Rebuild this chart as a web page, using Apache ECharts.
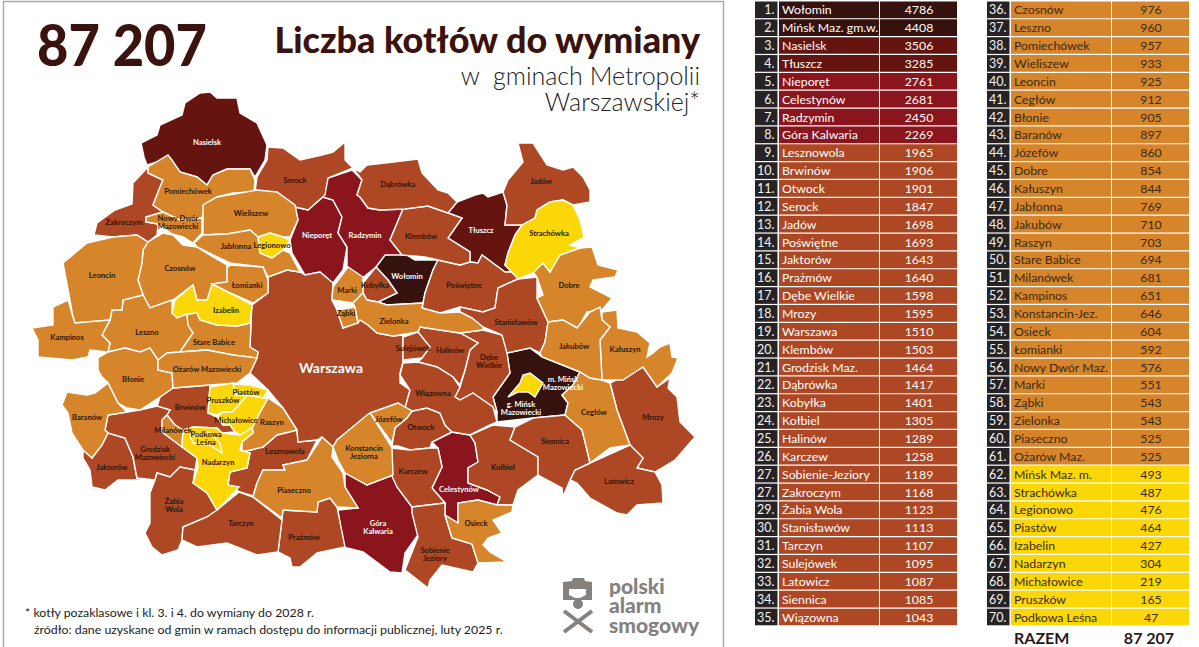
<!DOCTYPE html>
<html lang="pl"><head><meta charset="utf-8">
<style>html,body{margin:0;padding:0;background:#fff}#c{width:1199px;height:647px}</style>
<script src="https://cdn.jsdelivr.net/npm/echarts@6/dist/echarts.min.js"></script>
</head><body><div id="c"></div>
<script>
const ranks=[1,2,3,4,5,6,7,8,9,10,11,12,13,14,15,16,17,18,19,20,21,22,23,24,25,26,27,27,29,30,31,32,33,34,35,36,37,38,39,40,41,42,43,44,45,46,47,48,49,50,51,52,53,54,55,56,57,58,59,60,61,62,63,64,65,66,67,68,69,70];
const names=["Wołomin","Mińsk Maz. gm.w.","Nasielsk","Tłuszcz","Nieporęt","Celestynów","Radzymin","Góra Kalwaria","Lesznowola","Brwinów","Otwock","Serock","Jadów","Poświętne","Jaktorów","Prażmów","Dębe Wielkie","Mrozy","Warszawa","Klembów","Grodzisk Maz.","Dąbrówka","Kobyłka","Kołbiel","Halinów","Karczew","Sobienie-Jeziory","Zakroczym","Żabia Wola","Stanisławów","Tarczyn","Sulejówek","Latowicz","Siennica","Wiązowna","Czosnów","Leszno","Pomiechówek","Wieliszew","Leoncin","Cegłów","Błonie","Baranów","Józefów","Dobre","Kałuszyn","Jabłonna","Jakubów","Raszyn","Stare Babice","Milanówek","Kampinos","Konstancin-Jez.","Osieck","Łomianki","Nowy Dwór Maz.","Marki","Ząbki","Zielonka","Piaseczno","Ożarów Maz.","Mińsk Maz. m.","Strachówka","Legionowo","Piastów","Izabelin","Nadarzyn","Michałowice","Pruszków","Podkowa Leśna"];
const values=[4786,4408,3506,3285,2761,2681,2450,2269,1965,1906,1901,1847,1698,1693,1643,1640,1598,1595,1510,1503,1464,1417,1401,1305,1289,1258,1189,1168,1123,1113,1107,1095,1087,1085,1043,976,960,957,933,925,912,905,897,860,854,844,769,710,703,694,681,651,646,604,592,576,551,543,543,525,525,493,487,476,464,427,304,219,165,47];
const classLimits=[4000,3000,2000,1000,500,0];
const classColors=["#36120e","#66140f","#8b151c","#ae4723","#d6852a","#fbd708"];
const totalLabel="RAZEM", totalValue="87 207";
const titleNumber="87 207";
const titleMain="Liczba kotłów do wymiany";
const titleSub=["w  gminach Metropolii","Warszawskiej*"];
const notes=["* kotły pozaklasowe i kl. 3. i 4. do wymiany do 2028 r.","źródło: dane uzyskane od gmin w ramach dostępu do informacji publicznej, luty 2025 r."];
const logoWords=["polski","alarm","smogowy"];

// gmina outlines (geometry of the map, registered as GeoJSON) and label anchors
const outlines={
"Mińsk Maz. gm.w.":[507,353,530,348,542,357,560,364,580,372,573,385,562,395,568,403,565,415,533,418,497,422,497,412,493,397,510,373],
"Wołomin":[376,267,385,255,402,252,415,260,438,260,433,270,425,293,423,303,387,305,378,302,397,293,388,280],
"Nasielsk":[141,143,157,135,160,125,182,115,185,103,200,93,210,92,217,98,237,98,240,113,257,123,267,145,265,160,255,177,250,169,227,169,213,175,207,185,197,177,180,172,170,158,147,165,144,157],
"Tłuszcz":[448,213,457,202,475,195,483,193,488,197,503,192,507,205,505,225,522,225,515,235,508,253,505,265,513,272,505,272,482,255,478,263,470,262,470,252,448,238,462,218],
"Nieporęt":[295,207,308,210,323,197,333,200,342,217,338,233,347,247,343,270,333,283,320,272,305,275,292,253,290,240,298,220],
"Celestynów":[432,442,452,432,470,435,475,443,478,462,468,468,468,483,487,490,500,497,497,505,478,500,458,503,458,523,445,515,445,503,432,488,442,467,438,448],
"Radzymin":[323,197,328,178,352,170,362,180,357,195,360,197,368,208,380,210,403,209,395,228,390,240,402,255,385,255,376,267,360,280,352,285,347,270,347,247,338,233,342,217,333,200],
"Góra Kalwaria":[345,473,367,485,393,475,397,487,412,507,420,532,405,553,402,573,390,572,363,552,343,547,338,510,358,508,345,487],
"Lesznowola":[242,452,263,447,277,435,297,430,298,442,317,440,307,460,283,465,285,470,263,470,257,483,253,496,240,492,228,485,230,472,247,468,250,453],
"Brwinów":[160,397,173,388,210,385,208,413,217,417,223,425,230,425,235,432,222,433,217,428,193,427,183,430,175,425,167,415,170,410,157,407],
"Otwock":[392,446,395,428,407,418,412,411,427,408,440,413,445,425,452,432,432,442,430,448,410,450,398,446],
"Serock":[255,192,257,177,267,160,268,147,283,148,290,153,300,160,322,155,333,152,345,142,345,160,353,168,328,178,325,195,308,210,295,207,277,192],
"Jadów":[503,192,508,180,523,162,518,143,533,143,547,165,563,170,573,167,583,177,590,190,590,202,573,205,563,200,550,202,537,210,535,218,522,225,505,225,507,205],
"Poświętne":[438,260,460,265,470,262,478,263,482,255,505,272,513,272,518,279,498,288,495,308,483,312,460,307,440,313,422,308,425,293,433,270],
"Jaktorów":[83,450,92,458,102,445,108,433,125,438,133,457,137,478,155,480,118,480,105,490,92,487,90,470,83,458],
"Prażmów":[283,510,317,512,318,502,330,498,337,507,345,547,317,553,300,567,292,567,290,558,278,552,282,518],
"Dębe Wielkie":[460,333,483,330,502,335,508,350,507,353,510,373,493,397,497,412,473,393,460,400,455,397,460,387,465,370,470,350,478,343],
"Mrozy":[610,383,643,367,657,387,670,378,668,388,677,397,680,422,695,437,675,460,655,472,637,468,643,458,630,445,617,410],
"Warszawa":[252,305,268,293,268,277,287,270,300,272,305,275,320,272,333,283,332,300,337,310,343,328,360,320,368,325,377,333,393,336,403,335,403,362,400,373,400,383,410,390,405,408,398,403,370,413,337,440,333,447,322,437,317,440,298,442,297,430,283,408,268,390,250,373,257,358,258,352,250,347,251,323],
"Klembów":[410,208,428,206,448,213,462,218,448,238,470,252,470,262,460,265,438,260,425,257,402,255,390,240,395,228,403,209],
"Grodzisk Maz.":[105,430,108,415,127,412,140,410,157,406,170,410,167,415,162,420,162,432,182,447,197,458,195,470,180,467,170,477,157,473,155,480,137,478,133,457,125,438,108,433],
"Dąbrówka":[353,168,360,172,367,165,385,163,418,159,422,173,438,190,448,193,457,202,448,213,428,206,405,209,380,210,368,208,360,197,357,195,362,180],
"Kobyłka":[363,283,376,267,388,280,397,293,378,302,367,300,363,293],
"Kołbiel":[470,435,493,425,515,427,510,440,538,457,538,475,518,490,513,505,497,505,500,497,487,490,468,483,468,468,478,462,475,443],
"Halinów":[420,327,460,333,478,343,470,350,465,370,460,385,453,377,437,367,418,362,422,358,430,347,418,332],
"Karczew":[392,448,410,450,430,448,438,448,442,467,432,488,445,503,412,507,397,487,388,468],
"Sobienie-Jeziory":[412,507,445,503,445,515,452,538,472,544,478,563,473,572,442,565,430,580,428,588,405,570,418,537,412,513],
"Zakroczym":[94,235,97,223,115,210,132,204,133,183,148,167,148,173,163,180,160,187,153,205,163,212,146,217,146,222,158,224,157,235,148,242,137,235,113,237],
"Żabia Wola":[150,493,155,480,157,473,170,477,180,467,195,470,193,483,207,493,217,510,207,517,183,527,182,540,178,550,162,555,152,547,145,533,150,523],
"Stanisławów":[498,288,518,279,537,277,537,298,548,322,545,342,540,353,530,348,507,353,502,335,483,327,472,318,460,312,460,307,483,312,495,308],
"Tarczyn":[183,527,207,517,217,510,239,492,253,497,282,520,278,552,257,555,227,543,197,547,182,540],
"Sulejówek":[403,337,418,332,430,347,422,358,403,360],
"Latowicz":[570,480,575,470,590,463,630,445,643,458,637,468,655,472,662,485,663,503,637,505,627,515,617,513,590,498,577,483],
"Siennica":[515,427,533,418,565,415,582,430,587,450,590,463,575,470,570,480,563,497,562,488,538,475,538,457,510,440],
"Wiązowna":[403,363,418,362,437,367,453,377,460,387,455,397,460,400,473,393,493,407,497,422,490,425,470,435,452,432,445,425,440,413,427,408,412,411,405,408,410,390,400,375],
"Czosnów":[148,242,163,233,173,235,183,245,197,247,213,257,227,265,227,277,230,282,213,284,207,300,197,300,193,285,173,300,150,308,143,295,138,280,142,263,143,250],
"Leszno":[110,320,112,310,122,310,123,300,143,295,150,308,172,300,172,313,187,314,188,325,193,333,180,352,167,353,158,360,150,348,140,352,125,348,108,352,110,343,102,335],
"Pomiechówek":[148,167,168,155,172,160,180,172,197,177,207,185,213,175,227,169,250,169,255,180,254,192,233,193,217,197,205,204,202,218,180,220,163,212,153,205,160,187,163,180,148,173],
"Wieliszew":[203,205,217,197,240,193,257,190,277,192,295,205,298,220,290,237,283,237,270,233,258,237,250,230,227,234,203,235],
"Leoncin":[63,263,87,243,113,237,137,235,148,242,143,250,142,263,138,280,143,295,123,300,122,310,112,310,110,320,75,323,73,317,70,300],
"Cegłów":[562,395,573,385,580,372,590,378,602,380,610,383,617,410,630,445,610,448,590,463,587,450,582,430,565,415,568,403],
"Błonie":[98,358,108,352,125,348,140,352,150,348,158,360,158,370,172,373,173,388,160,397,140,410,127,408,118,403,108,383,102,377,98,370],
"Baranów":[62,405,67,392,87,395,95,393,108,383,118,403,127,412,108,415,105,430,108,433,102,445,92,458,83,450,72,433,68,413],
"Józefów":[370,413,398,403,412,411,407,418,395,428,392,443],
"Dobre":[533,272,543,263,550,272,560,255,580,248,592,247,598,265,618,270,615,277,593,280,590,287,612,298,602,310,587,312,578,328,563,320,548,322,537,298,543,295,537,277],
"Kałuszyn":[602,312,617,310,618,328,637,332,650,343,647,357,653,353,660,347,670,343,672,357,678,358,672,373,657,387,643,367,623,380,602,380,600,340,610,327,602,320],
"Jabłonna":[194,243,203,235,227,234,250,230,258,237,260,253,272,258,283,250,290,253,300,272,287,270,268,277,263,267,230,263,213,255,197,247],
"Jakubów":[548,322,563,320,577,328,590,312,600,307,602,320,610,327,600,340,602,380,590,378,580,372,560,364,542,357,540,353,545,342],
"Raszyn":[268,398,283,408,297,430,277,435,263,447,242,452,242,442,253,433,252,427,257,418],
"Stare Babice":[187,314,197,313,200,320,217,325,237,326,251,323,250,347,258,352,257,358,233,355,207,350,180,352,193,333,188,325],
"Milanówek":[167,415,175,425,183,430,182,447,162,432,162,420],
"Kampinos":[32,328,53,325,53,307,68,300,73,317,75,323,110,320,102,335,110,343,108,352,90,350,88,357,72,360,38,357,38,340],
"Konstancin-Jez.":[333,447,337,440,367,415,370,413,392,448,393,475,367,485,345,473,338,460],
"Osieck":[458,523,458,503,478,500,497,505,513,505,512,512,493,520,502,533,488,538,483,545,490,552,507,562,478,563,472,544,452,538,445,515],
"Łomianki":[230,265,263,267,268,280,268,293,253,303,230,293,212,284,227,282,227,268],
"Nowy Dwór Maz.":[146,217,163,212,180,220,202,218,202,233,193,243,183,237,172,234,158,224,146,222],
"Marki":[333,287,348,267,363,277,363,293,353,303,332,300],
"Ząbki":[337,310,355,307,358,323,343,328],
"Zielonka":[353,303,363,293,367,300,378,302,387,305,423,303,422,308,440,313,460,312,472,318,483,327,483,330,460,333,420,327,418,332,393,336,377,333,368,325,360,320,358,323,355,307],
"Piaseczno":[263,470,285,470,283,465,307,460,322,437,333,447,332,457,343,473,345,487,358,508,337,507,330,498,318,502,317,512,283,510,282,518,253,497,257,483],
"Ożarów Maz.":[167,353,180,352,207,350,233,355,257,358,250,373,237,383,210,385,173,388,172,373,158,370,158,360],
"Mińsk Maz. m.":[508,397,520,383,523,375,530,373,543,383,535,397,528,392,518,392],
"Strachówka":[522,225,535,218,537,210,550,202,563,200,573,205,580,220,584,237,570,245,580,248,560,255,550,272,543,263,533,273,518,279,505,265,508,253,515,235],
"Legionowo":[258,237,270,233,283,237,290,240,283,250,272,258,260,253],
"Piastów":[233,384,250,385,268,390,263,398,247,395,235,395],
"Izabelin":[172,313,175,300,193,285,197,300,207,300,212,284,230,293,252,305,250,323,237,326,217,325,200,320,197,313,187,314,177,318],
"Nadarzyn":[182,447,183,430,193,427,217,428,222,433,240,435,252,427,253,433,242,442,240,450,250,453,247,468,230,472,228,485,239,487,217,510,207,493,193,483,198,467,197,458],
"Michałowice":[247,395,263,398,268,398,257,418,253,427,240,435,235,432,230,425,223,425,217,417,223,412,232,412,237,407],
"Pruszków":[210,387,233,383,235,395,247,395,237,407,232,412,223,412,217,415,208,413],
"Podkowa Leśna":[190,435,210,433,220,443,222,453,210,445,193,443]
};
const anchors={"Wołomin":[407,276],"Mińsk Maz. gm.w.":[521,408],"Nasielsk":[207,142],"Tłuszcz":[481,230],"Nieporęt":[317,235],"Celestynów":[459,489],"Radzymin":[365,235],"Góra Kalwaria":[378,527],"Lesznowola":[285,451],"Brwinów":[190,407],"Otwock":[421,427],"Serock":[295,180],"Jadów":[541,181],"Poświętne":[464,285],"Jaktorów":[112,467],"Prażmów":[304,537],"Dębe Wielkie":[489,361],"Mrozy":[653,417],"Warszawa":[331,367],"Klembów":[421,236],"Grodzisk Maz.":[155,453],"Dąbrówka":[398,184],"Kobyłka":[375,285],"Kołbiel":[503,467],"Halinów":[450,350],"Karczew":[413,471],"Sobienie-Jeziory":[435,554],"Zakroczym":[124,222],"Żabia Wola":[174,505],"Stanisławów":[516,322],"Tarczyn":[241,523],"Sulejówek":[413,348],"Latowicz":[619,481],"Siennica":[555,441],"Wiązowna":[433,393],"Czosnów":[180,268],"Leszno":[147,332],"Pomiechówek":[188,191],"Wieliszew":[251,213],"Leoncin":[102,275],"Cegłów":[594,412],"Błonie":[133,379],"Baranów":[87,417],"Józefów":[389,419],"Dobre":[569,285],"Kałuszyn":[625,349],"Jabłonna":[236,246],"Jakubów":[574,346],"Raszyn":[272,422],"Stare Babice":[214,342],"Milanówek":[173,430],"Kampinos":[67,337],"Konstancin-Jez.":[364,452],"Osieck":[476,523],"Łomianki":[247,285],"Nowy Dwór Maz.":[178,222],"Marki":[347,290],"Ząbki":[346,313],"Zielonka":[394,321],"Piaseczno":[294,490],"Ożarów Maz.":[207,369],"Mińsk Maz. m.":[563,383],"Strachówka":[549,233],"Legionowo":[272,245],"Piastów":[246,392],"Izabelin":[226,310],"Nadarzyn":[218,462],"Michałowice":[236,420],"Pruszków":[223,400],"Podkowa Leśna":[206,438]};
const mapLabels={"Mińsk Maz. gm.w.":"g. Mińsk\nMazowiecki","Mińsk Maz. m.":"m. Mińsk\nMazowiecki","Góra Kalwaria":"Góra\nKalwaria","Dębe Wielkie":"Dębe\nWielkie","Grodzisk Maz.":"Grodzisk\nMazowiecki","Sobienie-Jeziory":"Sobienie\nJeziory","Żabia Wola":"Żabia\nWola","Konstancin-Jez.":"Konstancin\nJeziorna","Nowy Dwór Maz.":"Nowy Dwór\nMazowiecki","Ożarów Maz.":"Ożarów Mazowiecki","Podkowa Leśna":"Podkowa\nLeśna"};

const colorOf=v=>classColors[classLimits.findIndex(l=>v>=l)];
const features=names.map(n=>{
  const f=outlines[n],ring=[];
  for(let i=0;i<f.length;i+=2)ring.push([f[i],f[i+1]]);
  ring.push(ring[0].slice());
  return {type:"Feature",properties:{name:n,cp:anchors[n]},geometry:{type:"Polygon",coordinates:[ring]}};
});
echarts.registerMap("gminy",{type:"FeatureCollection",features});
let x0=1e9,y0=1e9,x1=-1e9,y1=-1e9;
Object.values(outlines).forEach(f=>{for(let i=0;i<f.length;i+=2){x0=Math.min(x0,f[i]);x1=Math.max(x1,f[i]);y0=Math.min(y0,f[i+1]);y1=Math.max(y1,f[i+1]);}});

const FONT="Lato";
const isDark=v=>v>=2000;
const mapData=names.map((n,i)=>{
  const v=values[i];
  const light=n==="Mińsk Maz. m."||isDark(v)||n==="Warszawa";
  const d={name:n,value:v,itemStyle:{areaColor:colorOf(v)},label:{color:light?"#fff":"#2a1608"}};
  if(n==="Warszawa"){d.label.fontSize=14;}
  return d;
});

const tableRow=(params,api)=>{
  const i=api.value(1),v=api.value(0);
  const cs=params.coordSys,h=api.size([0,1])[1],cy=api.coord([0,i])[1];
  const top=cy-h/2+.5,hh=h-1.2,c=colorOf(v),txt=v>=1000?"#fff":"#3a2a10";
  const rect=(x,w,fill)=>({type:"rect",shape:{x:cs.x+x,y:top,width:w,height:hh},style:{fill}});
  const text=(s,x,align,fill,size)=>({type:"text",x:cs.x+x,y:cy,style:{text:s,fill,font:`${size||12}px ${FONT}`,align,verticalAlign:"middle"}});
  const off=params.seriesIndex===2?35:0;
  return {type:"group",children:[
    rect(0,22.5,"#272324"),rect(24,100,c),rect(125,77,c),
    text(ranks[i+off]+".",19.5,"right","#f2f2f2",12.5),
    text(names[i+off],27,"left",txt,12.3),
    text(String(v),164,"center",txt,12.3)
  ]};
};
const tableGrid=(left)=>({left,top:1,width:202,height:625});
const cats=[names.slice(0,35),names.slice(35)];
const vals=[values.slice(0,35),values.slice(35)];
const textEl=(s,x,y,font,fill,align,scaleX)=>({type:"text",x,y,scaleX:scaleX||1,silent:true,style:{text:s,font,fill,align:align||"left",verticalAlign:"middle"}});
const logoFill="#85817f";

const chart=echarts.init(document.getElementById("c"),null,{renderer:"svg"});
chart.setOption({
  animation:false,backgroundColor:"#fff",
  grid:[tableGrid(755),tableGrid(987)],
  xAxis:[0,1].map(g=>({type:"value",gridIndex:g,min:0,max:5000,show:false})),
  yAxis:[0,1].map(g=>({type:"category",gridIndex:g,data:cats[g],inverse:true,show:false})),
  series:[
    {type:"map",map:"gminy",projection:{project:p=>p,unproject:p=>p},left:x0,top:y0,width:x1-x0,height:y1-y0,silent:true,roam:false,z:2,
     itemStyle:{borderColor:"#fff",borderWidth:1.4},emphasis:{disabled:true},select:{disabled:true},
     label:{show:true,fontFamily:FONT,fontWeight:"bold",fontSize:7.6,lineHeight:8.5,align:"center",formatter:p=>mapLabels[p.name]||p.name},
     data:mapData},
    ...[0,1].map(g=>({type:"custom",xAxisIndex:g,yAxisIndex:g,silent:true,renderItem:tableRow,encode:{x:0,y:1},
      data:vals[g].map((v,i)=>[v,i])}))
  ],
  graphic:{elements:[
    {type:"rect",silent:true,z:0,shape:{x:3.5,y:1.5,width:720,height:660},style:{fill:"none",stroke:"#a9a9a9",lineWidth:1.4}},
    textEl(titleNumber,37,44,`900 57px ${FONT}`,"#3a120e","left",0.95),
    textEl(titleMain,700,39,`900 35.9px ${FONT}`,"#3a120e","right"),
    textEl(titleSub[0],700,75,`300 25px ${FONT}`,"#222","right"),
    textEl(titleSub[1],700,101,`300 25px ${FONT}`,"#222","right"),
    textEl(notes[0],25,612,`12.35px ${FONT}`,"#222"),
    textEl(notes[1],34,629,`12.35px ${FONT}`,"#222"),
    textEl(logoWords[0],609,585,`900 21px ${FONT}`,logoFill),
    textEl(logoWords[1],609,604,`900 21px ${FONT}`,logoFill),
    textEl(logoWords[2],609,624,`900 21px ${FONT}`,logoFill),
    {type:"polygon",silent:true,shape:{points:[[563,582],[572,581],[573,578],[584,578],[585,581],[592,582],[592,600],[563,600]]},style:{fill:logoFill}},
    {type:"polygon",silent:true,shape:{points:[[569,589],[586,589],[586,595],[580,598],[575,598],[569,595]]},style:{fill:"#fff"}},
    {type:"circle",silent:true,shape:{cx:578,cy:604,r:5},style:{fill:logoFill}},
    {type:"line",silent:true,shape:{x1:564,y1:611,x2:592,y2:632},style:{stroke:logoFill,lineWidth:4}},
    {type:"line",silent:true,shape:{x1:592,y1:611,x2:564,y2:632},style:{stroke:logoFill,lineWidth:4}},
    textEl(totalLabel,1014,637.5,`bold 16px ${FONT}`,"#2a1a18"),
    textEl(totalValue,1149,637.5,`bold 16px ${FONT}`,"#2a1a18","center")
  ]}
});
</script></body></html>
